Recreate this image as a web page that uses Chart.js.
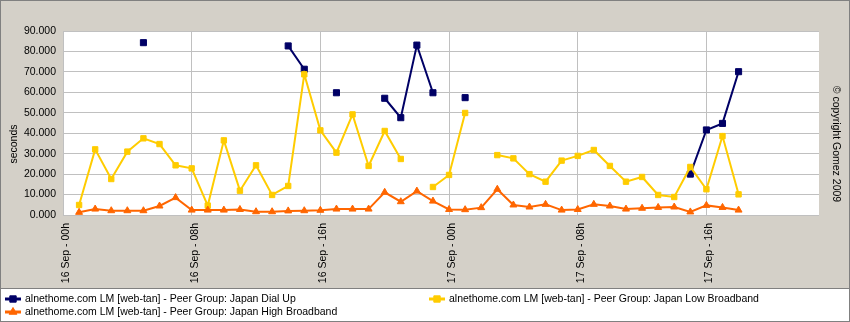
<!DOCTYPE html>
<html>
<head>
<meta charset="utf-8">
<script src="https://cdn.jsdelivr.net/npm/chart.js@4/dist/chart.umd.min.js"></script>
<style>
  html, body { margin: 0; padding: 0; background: #d4d0c8; }
  #wrap { width: 850px; height: 322px; }
</style>
</head>
<body>
<div id="wrap"><canvas id="chart" width="850" height="322"></canvas></div>
<script>
// hours since 16 Sep 00h
const hours = [1,2,3,4,5,6,7,8,9,10,11,12,13,14,15,16,17,18,19,20,21,22,23,24,25,26,27,28,29,30,31,32,33,34,35,36,37,38,39,40,41,42];

// response times in seconds, null = no measurement
const dialUp = [null,null,null,null,84.3,null,null,null,null,null,null,null,null,82.7,71.3,null,59.8,null,null,57.1,47.6,83.1,59.8,null,57.4,null,null,null,null,null,null,null,null,null,null,null,null,null,20.0,41.6,44.8,70.1];
const lowBroadband = [4.9,32.1,17.6,31.0,37.5,34.7,24.3,22.8,4.6,36.5,11.9,24.3,9.8,14.2,68.8,41.4,30.5,49.2,24.0,41.1,27.4,null,13.7,19.6,49.9,null,29.3,27.7,20.0,16.3,26.6,28.9,31.8,24.0,16.3,18.6,9.8,8.8,23.5,12.6,38.6,10.1];
const highBroadband = [1.3,2.9,2.1,2.1,2.1,4.4,8.5,2.4,2.4,2.4,2.7,1.6,1.6,2.0,2.1,2.3,2.9,2.9,2.9,11.1,6.5,11.7,6.8,2.7,2.6,3.6,12.6,4.9,3.9,5.2,2.4,2.7,5.2,4.4,2.9,3.3,3.7,3.9,1.5,4.7,3.7,2.4];

const tickHours = [0, 8, 16, 24, 32, 40];
const tickLabels = ["16 Sep - 00h", "16 Sep - 08h", "16 Sep - 16h", "17 Sep - 00h", "17 Sep - 08h", "17 Sep - 16h"];

const seriesNames = [
  "alnethome.com LM [web-tan] - Peer Group: Japan Dial Up",
  "alnethome.com LM [web-tan] - Peer Group: Japan Low Broadband",
  "alnethome.com LM [web-tan] - Peer Group: Japan High Broadband"
];
const seriesColors = ["#000066", "#ffcc00", "#ff6600"];
const seriesMarkers = ["rect", "rect", "triangle"];

const FONT = "'Liberation Sans', Arial, sans-serif";

function points(values){
  return hours.map((h, i) => ({x: h, y: values[i]}));
}

// gray frame, white plot area, side texts and the legend box
const decor = {
  id: "decor",
  beforeDraw(chart){
    const {ctx, chartArea: a, width, height} = chart;
    ctx.save();
    ctx.fillStyle = "#d4d0c8";
    ctx.fillRect(0, 0, width, height);
    ctx.fillStyle = "#ffffff";
    ctx.fillRect(a.left, a.top, a.right - a.left, a.bottom - a.top);
    // legend box
    ctx.fillRect(0, 288, width, height - 288);
    ctx.strokeStyle = "#808080";
    ctx.lineWidth = 1;
    ctx.beginPath();
    ctx.moveTo(0, 288.5); ctx.lineTo(width, 288.5);
    ctx.stroke();
    ctx.strokeRect(0.5, 0.5, width - 1, height - 1);
    ctx.restore();
  },
  afterDraw(chart){
    const ctx = chart.ctx;
    ctx.save();
    ctx.fillStyle = "#000";
    ctx.font = "10.5px " + FONT;
    ctx.textAlign = "center";
    ctx.textBaseline = "middle";

    ctx.save();
    ctx.translate(14, 144);
    ctx.rotate(-Math.PI / 2);
    ctx.fillText("seconds", 0, 0);
    ctx.restore();

    ctx.save();
    ctx.translate(836, 144);
    ctx.rotate(Math.PI / 2);
    ctx.fillText("\u00a9 copyright Gomez 2009", 0, 0);
    ctx.restore();

    // legend
    const slots = [[5, 299], [429, 299], [5, 312]];
    slots.forEach(([x, y], i) => {
      ctx.strokeStyle = seriesColors[i];
      ctx.fillStyle = seriesColors[i];
      ctx.lineWidth = 3;
      ctx.beginPath();
      ctx.moveTo(x, y); ctx.lineTo(x + 16, y);
      ctx.stroke();
      ctx.lineWidth = 1;
      Chart.helpers.drawPoint(ctx, {pointStyle: seriesMarkers[i], radius: 4.5, borderWidth: 1}, x + 8, y);
      ctx.fillStyle = "#000";
      ctx.textAlign = "left";
      ctx.fillText(seriesNames[i], x + 20, y);
    });
    ctx.restore();
  }
};

function lineSet(i, values, radius, order){
  return {
    label: seriesNames[i],
    data: points(values),
    borderColor: seriesColors[i],
    backgroundColor: seriesColors[i],
    borderWidth: 2,
    pointStyle: seriesMarkers[i],
    pointRadius: radius,
    pointBorderWidth: 1,
    pointBackgroundColor: seriesColors[i],
    pointBorderColor: seriesColors[i],
    spanGaps: false,
    tension: 0,
    order: order
  };
}

new Chart(document.getElementById("chart"), {
  type: "line",
  data: {
    datasets: [
      lineSet(0, dialUp, 4.3, 3),
      lineSet(1, lowBroadband, 3.8, 2),
      lineSet(2, highBroadband, 4, 1)
    ]
  },
  options: {
    responsive: false,
    animation: false,
    layout: { padding: { left: 0, top: 31, right: 31, bottom: 34 } },
    plugins: { legend: { display: false }, tooltip: { enabled: false } },
    scales: {
      x: {
        type: "linear",
        min: 0,
        max: 47,
        afterBuildTicks: s => { s.ticks = tickHours.map(v => ({value: v})); },
        afterFit: s => { s.height = 73; },
        ticks: {
          autoSkip: false,
          minRotation: 90,
          maxRotation: 90,
          padding: 8,
          labelOffset: 3,
          color: "#000",
          font: { family: FONT, size: 10.5 },
          callback: v => tickLabels[tickHours.indexOf(v)]
        },
        grid: { color: "#c0c0c0", drawTicks: false, lineWidth: 1 },
        border: { display: false }
      },
      y: {
        min: 0,
        max: 90,
        afterFit: s => { s.width = 63; },
        ticks: {
          stepSize: 10,
          padding: 7,
          color: "#000",
          font: { family: FONT, size: 10.5 },
          callback: v => v.toFixed(3)
        },
        grid: { color: "#c0c0c0", drawTicks: false, lineWidth: 1 },
        border: { display: false }
      }
    }
  },
  plugins: [decor]
});
</script>
</body>
</html>
